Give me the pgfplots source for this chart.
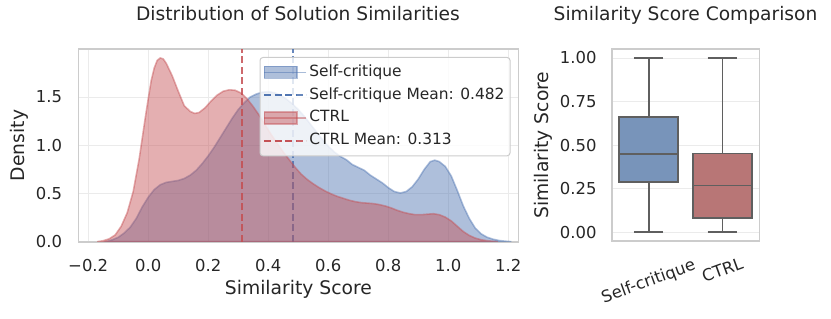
\documentclass[border=0pt]{standalone}
\usepackage{fontspec}
\setmainfont{DejaVu Sans}
\usepackage{pgfplots}
\pgfplotsset{compat=1.18}
\usepgfplotslibrary{statistics}
\definecolor{sbblue}{HTML}{4C72B0}
\definecolor{sbred}{HTML}{C44E52}
\definecolor{boxblue}{HTML}{7894BA}
\definecolor{boxred}{HTML}{B87676}
\definecolor{gridc}{HTML}{EBEBEB}
\definecolor{framec}{HTML}{CCCCCC}
\definecolor{txt}{HTML}{262626}
\definecolor{boxline}{HTML}{5F5F5F}
\pgfplotsset{
  sbstyle/.style={
    scale only axis,
    axis line style={framec, line width=1.6bp},
    grid=major,
    major grid style={gridc, line width=1bp},
    major tick length=0pt,
    tick style={draw=none},
    ticklabel style={font=\fontsize{16.5}{19}\selectfont, text=txt},
    label style={font=\fontsize{18.8}{22}\selectfont, text=txt},
    title style={font=\fontsize{18.7}{22}\selectfont, text=txt},
  },
  kdefill/.style={draw=#1, draw opacity=0.45, line width=1.6bp, fill=#1, fill opacity=0.45,
    legend image code/.code={\draw[##1, sharp corners] (0bp,-6bp) rectangle (32.3bp,6bp);
      \path (0bp,0bp) -- (42bp,0bp);}},
  meanline/.style={draw=#1, draw opacity=0.85, line width=1.8bp, dash pattern=on 7bp off 3.5bp,
    legend image code/.code={\draw[##1, sharp corners] (0bp,0bp) -- (32.3bp,0bp);
      \path (0bp,0bp) -- (42bp,0bp);}},
}
\begin{document}
\begin{tikzpicture}
\useasboundingbox (0bp,0bp) rectangle (831bp,319bp);
\begin{axis}[sbstyle,
  at={(78.3bp,77.3bp)}, anchor=south west,
  width=440.2bp, height=192.4bp,
  xmin=-0.233, xmax=1.234, ymin=0, ymax=1.995,
  xtick={-0.2,0,0.2,0.4,0.6,0.8,1.0,1.2},
  xticklabels={−0.2,0.0,0.2,0.4,0.6,0.8,1.0,1.2},
  ytick={0,0.5,1.0,1.5},
  yticklabels={0.0,0.5,1.0,1.5},
  xticklabel style={inner sep=0pt, anchor=north, yshift=-17bp},
  yticklabel style={inner sep=0pt, anchor=east, xshift=-16bp},
  xlabel={Similarity Score},
  ylabel={Density},
  xlabel style={at={(axis description cs:0.5,-0.25)}, anchor=center},
  ylabel style={at={(axis description cs:-0.134,0.5)}, anchor=center},
  title={Distribution of Solution Similarities},
  title style={at={(axis description cs:0.499,1.154)}, anchor=center},
  legend cell align=left,
  legend style={at={(axis description cs:0.982,0.96)}, anchor=north east,
    draw=framec, line width=1bp, rounded corners=3bp, fill=white, fill opacity=0.8, text opacity=1,
    font=\fontsize{15.5}{18}\selectfont, text=txt, inner xsep=3.5bp, inner ysep=5.5bp,
    row sep=3.9bp,
    nodes={inner sep=2bp, text height=11.3bp, text depth=3.6bp}},
]
\addplot[kdefill=sbblue] coordinates {
(-0.14,0) (-0.12,0.02) (-0.10,0.045) (-0.08,0.09) (-0.06,0.15) (-0.04,0.24) (-0.02,0.36)
(0.0,0.46) (0.02,0.54) (0.04,0.59) (0.06,0.615) (0.08,0.625) (0.10,0.635) (0.12,0.655)
(0.14,0.69) (0.16,0.74) (0.18,0.81) (0.20,0.89) (0.22,0.98) (0.24,1.08) (0.26,1.18)
(0.28,1.28) (0.30,1.37) (0.32,1.44) (0.34,1.50) (0.36,1.53) (0.38,1.55) (0.40,1.555)
(0.42,1.545) (0.44,1.52) (0.46,1.48) (0.48,1.43) (0.50,1.37) (0.52,1.30) (0.54,1.22)
(0.56,1.14) (0.58,1.06) (0.60,0.99) (0.62,0.93) (0.64,0.885) (0.66,0.85) (0.68,0.80)
(0.70,0.77) (0.72,0.74) (0.74,0.69) (0.76,0.65) (0.78,0.61) (0.80,0.56) (0.82,0.52)
(0.84,0.505) (0.86,0.52) (0.88,0.57) (0.90,0.65) (0.92,0.75) (0.94,0.83) (0.955,0.845)
(0.97,0.83) (0.99,0.78) (1.01,0.68) (1.03,0.53) (1.05,0.37) (1.07,0.24) (1.09,0.14)
(1.11,0.08) (1.13,0.045) (1.15,0.025) (1.17,0.012) (1.19,0.005) (1.21,0)
} \closedcycle;
\addlegendentry{Self-critique}
\addplot[meanline=sbblue] coordinates {(0.482,0) (0.482,1.995)};
\addlegendentry{Self-critique Mean: 0.482}
\addplot[kdefill=sbred] coordinates {
(-0.17,0) (-0.15,0.01) (-0.13,0.03) (-0.11,0.07) (-0.09,0.16) (-0.07,0.30) (-0.05,0.52)
(-0.03,0.86) (-0.01,1.28) (0.0,1.48) (0.01,1.67) (0.02,1.80) (0.03,1.88) (0.04,1.905)
(0.05,1.895) (0.06,1.85) (0.08,1.72) (0.10,1.56) (0.12,1.41) (0.14,1.35) (0.155,1.33)
(0.17,1.34) (0.19,1.39) (0.21,1.46) (0.23,1.52) (0.25,1.56) (0.27,1.575) (0.29,1.57)
(0.31,1.54) (0.33,1.48) (0.35,1.40) (0.37,1.31) (0.39,1.21) (0.41,1.11) (0.43,1.02)
(0.45,0.93) (0.47,0.85) (0.49,0.77) (0.51,0.70) (0.53,0.645) (0.55,0.60) (0.57,0.56)
(0.59,0.525) (0.61,0.495) (0.63,0.47) (0.65,0.45) (0.67,0.43) (0.69,0.415) (0.71,0.405)
(0.73,0.40) (0.75,0.395) (0.77,0.385) (0.79,0.37) (0.81,0.35) (0.83,0.325) (0.85,0.305)
(0.87,0.29) (0.89,0.28) (0.91,0.28) (0.93,0.285) (0.95,0.29) (0.97,0.28) (0.99,0.255)
(1.01,0.215) (1.03,0.16) (1.05,0.105) (1.07,0.065) (1.09,0.037) (1.11,0.02) (1.13,0.01)
(1.15,0.004) (1.165,0)
} \closedcycle;
\addlegendentry{CTRL}
\addplot[meanline=sbred] coordinates {(0.313,0) (0.313,1.995)};
\addlegendentry{CTRL Mean: 0.313}
\end{axis}
\begin{axis}[sbstyle,
  at={(611.7bp,78bp)}, anchor=south west,
  width=147.6bp, height=191.7bp,
  xmin=-0.5, xmax=1.5, ymin=-0.05, ymax=1.05,
  xmajorgrids=false,
  xtick={0}, xticklabels={Self-critique},
  extra x ticks={1}, extra x tick labels={CTRL},
  extra x tick style={grid=none, xticklabel style={xshift=4.1bp, yshift=11.28bp}},
  xticklabel style={inner sep=0pt, yshift=-41bp, rotate=20, anchor=center},
  ytick={0,0.25,0.5,0.75,1},
  yticklabels={0.00,0.25,0.50,0.75,1.00},
  yticklabel style={inner sep=0pt, anchor=east, xshift=-15bp},
  ylabel={Similarity Score},
  ylabel style={at={(axis description cs:-0.46,0.5)}, anchor=center},
  title={Similarity Score Comparison},
  title style={at={(axis description cs:0.5,1.148)}, anchor=center},
]
\addplot[boxplot prepared={draw direction=y, draw position=0, lower whisker=0, lower quartile=0.288,
  median=0.45, upper quartile=0.662, upper whisker=1, box extend=0.8, whisker extend=0.4},
  fill=boxblue, draw=boxline, line width=1.8bp] coordinates {};
\addplot[boxplot prepared={draw direction=y, draw position=1, lower whisker=0, lower quartile=0.084,
  median=0.269, upper quartile=0.452, upper whisker=1, box extend=0.8, whisker extend=0.4},
  fill=boxred, draw=boxline, line width=1.8bp] coordinates {};
\end{axis}
\end{tikzpicture}
\end{document}
